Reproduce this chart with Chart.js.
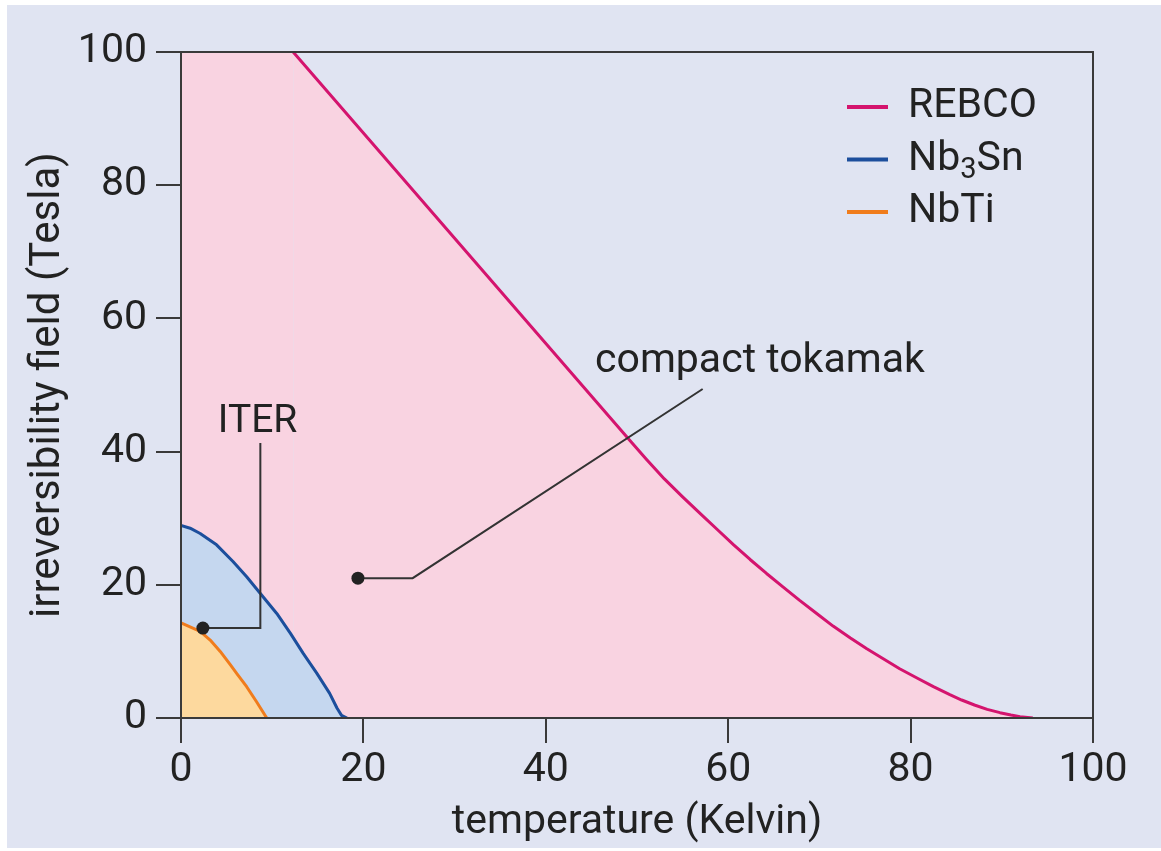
<!DOCTYPE html>
<html><head><meta charset="utf-8">
<script src="https://cdn.jsdelivr.net/npm/chart.js@4/dist/chart.umd.min.js"></script>
<style>html,body{margin:0;padding:0;background:#fff;}canvas{display:block;}</style>
</head><body>
<canvas id="c" width="1161" height="851"></canvas>
<script>
// ---- data ----
const seriesNames = ['REBCO', 'Nb3Sn', 'NbTi'];
const rebcoT = [0, 12.3, 49.2, 51, 53, 55, 57, 58.8, 60.6, 62.4, 64.2, 66, 67.8, 69.7, 71.5, 73.4, 75.2, 77, 78.8, 80.7, 82.5, 84.3, 85.6, 87, 88.4, 89.8, 91, 92, 93.4];
const rebcoB = [100, 100, 41.7, 38.9, 35.9, 33.2, 30.6, 28.3, 26.0, 23.8, 21.7, 19.7, 17.7, 15.7, 13.8, 12.0, 10.4, 8.9, 7.4, 6.0, 4.7, 3.5, 2.7, 1.95, 1.3, 0.8, 0.45, 0.2, 0];
const nb3snT = [0, 1, 2.1, 3.9, 5.7, 7.2, 8.7, 10.5, 12.0, 13.4, 14.9, 16.3, 17.1, 17.6, 18.2];
const nb3snB = [28.9, 28.5, 27.7, 26.0, 23.5, 21.2, 18.7, 15.7, 12.7, 9.7, 6.7, 3.7, 1.5, 0.4, 0];
const nbtiT = [0, 2.1, 3.2, 4.3, 5.4, 6.1, 7.2, 8.3, 9.4];
const nbtiB = [14.3, 13.0, 11.7, 10.0, 8.0, 6.7, 4.7, 2.4, 0];
const xTicks = [0, 20, 40, 60, 80, 100];
const yTicks = [0, 20, 40, 60, 80, 100];
const xTitle = 'temperature (Kelvin)';
const yTitle = 'irreversibility field (Tesla)';
const iterLeaderT = [2.4, 8.7, 8.7];
const iterLeaderB = [13.5, 13.5, 41.3];
const tokamakLeaderT = [19.4, 25.4, 57.2];
const tokamakLeaderB = [21, 21, 49.4];
const annotationLabels = ['ITER', 'compact tokamak'];
const annotationLabelT = [8.4, 45.4];
const annotationLabelB = [43, 52];

// ---- styles ----
const FONT = 'Roboto';
const TXT = '#222222';
const AXIS = '#3a3a3a';
const BG = '#e0e4f2';
const lineColors = ['#d4146e', '#1c4e9c', '#f07c1c'];
const fillColors = ['#f9d3e1', '#c5d7ef', '#fdd99e'];

const pts = (xs, ys) => xs.map((x, i) => ({x: x, y: ys[i]}));

const datasets = [
  {label: seriesNames[0], data: pts(rebcoT, rebcoB), borderColor: lineColors[0], backgroundColor: fillColors[0],
   fill: 'origin', borderWidth: 3, pointRadius: 0, tension: 0, order: 3, borderJoinStyle: 'round',
   segment: {borderColor: c => c.p0DataIndex === 0 ? 'rgba(0,0,0,0)' : lineColors[0]}},
  {label: seriesNames[1], data: pts(nb3snT, nb3snB), borderColor: lineColors[1], backgroundColor: fillColors[1],
   fill: 'origin', borderWidth: 3, pointRadius: 0, tension: 0, order: 2, borderJoinStyle: 'round'},
  {label: seriesNames[2], data: pts(nbtiT, nbtiB), borderColor: lineColors[2], backgroundColor: fillColors[2],
   fill: 'origin', borderWidth: 3, pointRadius: 0, tension: 0, order: 1, borderJoinStyle: 'round'},
  {label: 'iter-leader', data: pts(iterLeaderT, iterLeaderB), borderColor: '#333', borderWidth: 2, fill: false,
   tension: 0, order: 0, pointRadius: c => c.dataIndex === 0 ? 6.5 : 0, pointBackgroundColor: '#222', pointBorderWidth: 0},
  {label: 'tokamak-leader', data: pts(tokamakLeaderT, tokamakLeaderB), borderColor: '#333', borderWidth: 2, fill: false,
   tension: 0, order: 0, pointRadius: c => c.dataIndex === 0 ? 6.5 : 0, pointBackgroundColor: '#222', pointBorderWidth: 0}
];

const decor = {
  id: 'decor',
  beforeDraw(chart) {
    const ctx = chart.ctx;
    ctx.save();
    ctx.fillStyle = '#ffffff';
    ctx.fillRect(0, 0, chart.width, chart.height);
    ctx.fillStyle = BG;
    ctx.fillRect(7, 5, chart.width - 7, chart.height - 8);
    ctx.restore();
  },
  afterDatasetsDraw(chart) {
    const ctx = chart.ctx, a = chart.chartArea;
    const xs = chart.scales.x, ys = chart.scales.y;
    ctx.save();
    // frame
    ctx.strokeStyle = AXIS; ctx.lineWidth = 2;
    ctx.strokeRect(a.left, a.top, a.right - a.left, a.bottom - a.top);
    // annotation labels
    ctx.fillStyle = TXT;
    ctx.textBaseline = 'alphabetic';
    ctx.font = '39px "' + FONT + '"';
    ctx.textAlign = 'center';
    ctx.fillText(annotationLabels[0], xs.getPixelForValue(annotationLabelT[0]), ys.getPixelForValue(annotationLabelB[0]));
    ctx.font = '41px "' + FONT + '"';
    ctx.textAlign = 'left';
    ctx.fillText(annotationLabels[1], xs.getPixelForValue(annotationLabelT[1]), ys.getPixelForValue(annotationLabelB[1]));
    // legend
    for (let i = 0; i < 3; i++) {
      const y = a.top + 55 + i * 52.5;
      ctx.strokeStyle = lineColors[i]; ctx.lineWidth = 4; ctx.lineCap = 'butt';
      ctx.beginPath(); ctx.moveTo(a.right - 246, y); ctx.lineTo(a.right - 205, y); ctx.stroke();
      ctx.fillStyle = TXT; ctx.textAlign = 'left'; ctx.textBaseline = 'middle';
      let x = a.right - 185;
      const name = seriesNames[i];
      const m = name.match(/^([A-Za-z]+)(\d)([A-Za-z]+)$/);
      ctx.font = '41px "' + FONT + '"';
      if (m) {
        ctx.fillText(m[1], x, y); x += ctx.measureText(m[1]).width;
        ctx.font = '29px "' + FONT + '"';
        ctx.fillText(m[2], x, y + 11); x += ctx.measureText(m[2]).width;
        ctx.font = '41px "' + FONT + '"';
        ctx.fillText(m[3], x, y);
      } else {
        ctx.fillText(name, x, y);
      }
    }
    ctx.restore();
  }
};

new Chart(document.getElementById('c'), {
  type: 'line',
  data: {datasets: datasets},
  plugins: [decor],
  options: {
    responsive: false,
    animation: false,
    layout: {padding: {top: 52, right: 68, left: 0, bottom: 0}},
    plugins: {legend: {display: false}, tooltip: {enabled: false}},
    scales: {
      x: {
        type: 'linear', min: 0, max: 100,
        afterBuildTicks: s => { s.ticks = xTicks.map(v => ({value: v})); },
        afterFit: s => { s.height = 133; },
        border: {display: false},
        grid: {drawOnChartArea: false, drawTicks: true, tickLength: 25, color: AXIS, lineWidth: 2},
        ticks: {color: TXT, font: {family: FONT, size: 41}, padding: 3, maxRotation: 0},
        title: {display: true, text: xTitle, color: TXT, font: {family: FONT, size: 41}, padding: {top: 0, bottom: 4}}
      },
      y: {
        type: 'linear', min: 0, max: 100,
        afterBuildTicks: s => { s.ticks = yTicks.map(v => ({value: v})); },
        afterFit: s => { s.width = 181; },
        border: {display: false},
        grid: {drawOnChartArea: false, drawTicks: true, tickLength: 25, color: AXIS, lineWidth: 2},
        ticks: {color: TXT, font: {family: FONT, size: 41}, padding: 9},
        title: {display: true, text: yTitle, color: TXT, font: {family: FONT, size: 42}, padding: {top: 23, bottom: 0}}
      }
    }
  }
});
</script>
</body></html>
